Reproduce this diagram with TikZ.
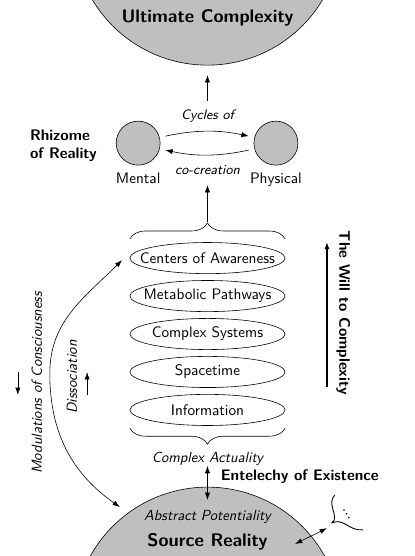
\documentclass[tikz,border=0pt]{standalone}
\usetikzlibrary{shapes.geometric,decorations.pathreplacing,arrows.meta}
\renewcommand{\familydefault}{\sfdefault}

\tikzset{
  base/.style={font=\fontsize{10.45}{12.5}\selectfont},
  realm/.style={circle, draw, fill=gray!50, minimum size=6.46cm, inner sep=0pt},
  realmtext/.style={font=\fontsize{12.5}{15}\selectfont\bfseries},
  pole/.style={circle, draw, fill=gray!50, minimum size=1.06cm, inner sep=0pt},
  level/.style={minimum width=3.74cm, minimum height=0.75cm, inner sep=0pt},
  caption/.style={font=\fontsize{9.4}{11}\selectfont\itshape},
  heading/.style={font=\fontsize{10.45}{12.5}\selectfont\bfseries},
  flow/.style={-{Latex[length=5pt,width=3.5pt]}},
  twoway/.style={{Latex[length=5pt,width=3.5pt]}-{Latex[length=5pt,width=3.5pt]}},
  curly/.style={decorate, decoration={brace, amplitude=11pt}},
}

\begin{document}
\begin{tikzpicture}[every node/.append style={base}]
\path[use as bounding box, clip] (0,0) rectangle (10,13.4);

% Ultimate Complexity
\node[realm] (ultimate) at (5,15.06) {};
\node[realmtext] (ultimatetext) at (5,12.97) {Ultimate Complexity};

% Rhizome of Reality
\node[pole] (mental) at (3.33,9.95) {};
\node[pole] (physical) at (6.65,9.95) {};
\node[text height=1.6ex, text depth=0.4ex] (mentaltext) at (3.33,9.08) {Mental};
\node[text height=1.6ex, text depth=0.4ex] (physicaltext) at (6.65,9.08) {Physical};
\node[caption] (cycles) at (5,10.6) {Cycles of};
\node[caption] (cocreation) at (5,9.30) {co-creation};
\node[heading, align=left, anchor=west] (rhizome) at (0.6,9.88) {Rhizome\\of Reality};
\draw[flow, shorten <=4pt, shorten >=4pt] (mental.15) to[bend left=12] (physical.165);
\draw[flow, shorten <=4pt, shorten >=4pt] (physical.-165) to[bend left=12] (mental.-15);

% Levels of complex actuality
\node[level] (awareness) at (5,7.18) {Centers of Awareness};
\node[level] (metabolic) at (5,6.265) {Metabolic Pathways};
\node[level] (systems) at (5,5.35) {Complex Systems};
\node[level] (spacetime) at (5,4.435) {Spacetime};
\node[level] (information) at (5,3.52) {Information};
\foreach \n in {awareness,metabolic,systems,spacetime,information}
  \draw (\n.center) ellipse (1.87cm and 0.375cm);
\draw[curly] (3.13,7.64) -- (6.87,7.64);
\draw[curly] (6.87,3.08) -- (3.13,3.08);
\coordinate (bracetop) at (5,8.06);
\coordinate (rhizomefoot) at (5,8.94);
\coordinate (rhizometop) at (5,10.96);
\coordinate (ultimatefoot) at (5,11.59);
\draw[flow] (bracetop) -- (rhizomefoot);
\draw[flow] (rhizometop) -- (ultimatefoot);
\node[font=\itshape] (actuality) at (5,2.34) {Complex Actuality};

% Source Reality
\node[realm] (source) at (5,-1.57) {};
\node[font=\itshape] (potentiality) at (5,0.94) {Abstract Potentiality};
\node[realmtext] (sourcetext) at (5,0.34) {Source Reality};
\coordinate (entelechytop) at (5,2.17);
\coordinate (entelechyfoot) at (5,1.35);
\draw[twoway] (entelechytop) -- (entelechyfoot);
\node[heading, anchor=west] (entelechy) at (5.2,1.90) {Entelechy of Existence};

% Other realities
\coordinate (sourceedge) at (7.11,0.29);
\coordinate (beyond) at (7.88,0.67);
\draw[twoway] (sourceedge) -- (beyond);
\draw[line width=0.6pt] (8.07,1.47) .. controls (7.85,1.25) and (8.2,0.95) .. (8.0,0.80)
  .. controls (8.3,0.92) and (8.4,0.6) .. (8.75,0.63);
\fill (8.29,1.11) circle (0.6pt) (8.35,1.02) circle (0.6pt) (8.41,0.93) circle (0.6pt);

% Modulations of Consciousness
\coordinate (modstart) at (2.89,1.18);
\coordinate (modbend) at (1.2,4.4);
\coordinate (modend) at (2.94,7.13);
\draw[twoway] (modstart) to[out=145, in=-90] (modbend) to[out=90, in=225] (modend);
\node[font=\itshape, rotate=90] (modulations) at (0.89,4.17) {Modulations of Consciousness};
\node[font=\itshape, rotate=90] (dissociation) at (1.73,4.31) {Dissociation};
\draw[flow] (0.43,4.43) -- (0.43,3.88);
\draw[flow] (2.10,3.88) -- (2.10,4.43);

% The Will to Complexity
\draw[flow, line width=1.1pt] (7.88,4.07) -- (7.88,7.57);
\node[heading, rotate=-90] (will) at (8.27,5.86) {The Will to Complexity};

\end{tikzpicture}
\end{document}
